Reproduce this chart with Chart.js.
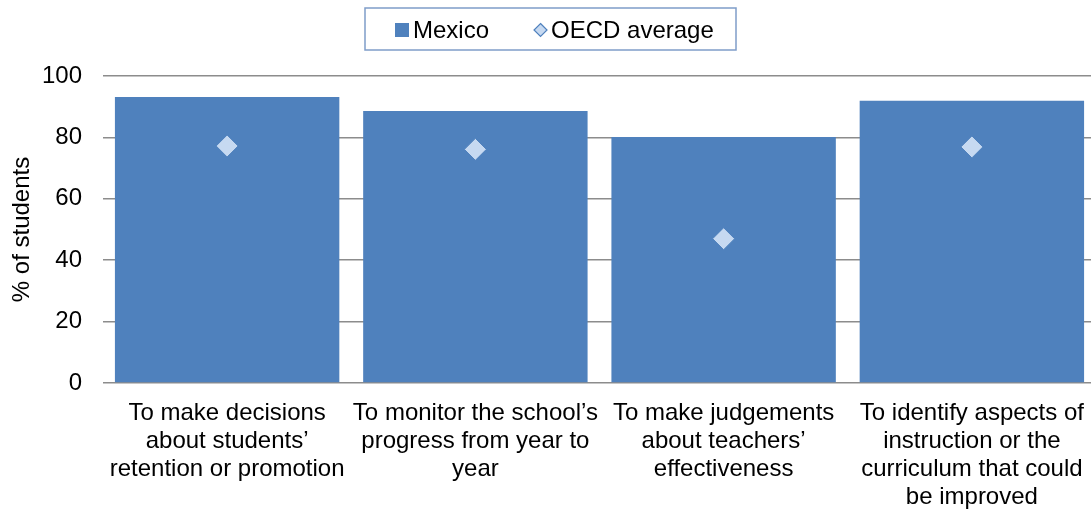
<!DOCTYPE html>
<html>
<head>
<meta charset="utf-8">
<script src="https://cdn.jsdelivr.net/npm/chart.js@4/dist/chart.umd.min.js"></script>
<style>
  html, body { margin: 0; padding: 0; background: #fff; overflow: hidden; width: 1091px; height: 512px; }
  #wrap { width: 1108px; height: 512px; position: relative; }
</style>
</head>
<body>
<div id="wrap"><canvas id="c"></canvas></div>
<script>
const categories = [
  ["To make decisions", "about students’", "retention or promotion"],
  ["To monitor the school’s", "progress from year to", "year"],
  ["To make judgements", "about teachers’", "effectiveness"],
  ["To identify aspects of", "instruction or the", "curriculum that could", "be improved"]
];
const seriesNames = ["Mexico", "OECD average"];
const mexicoValues = [93.2, 88.6, 80.1, 91.9];
const oecdValues = [77.2, 76.1, 47.0, 76.9];
const yAxisTitle = "% of students";

const BAR = '#4F81BD';
const DIAMOND = '#C6D9F1';
const FONT = "'Liberation Sans', Arial, sans-serif";

const boxLegend = {
  id: 'boxLegend',
  afterDraw(chart) {
    const ctx = chart.ctx;
    const ds = chart.data.datasets;
    const barDs = ds.find(d => d.type === 'bar');
    const ptDs = ds.find(d => d.type === 'line');
    ctx.save();
    const boxL = 365, boxT = 8, boxW = 371, boxH = 42;
    ctx.strokeStyle = '#7F9DC9';
    ctx.lineWidth = 1.5;
    ctx.strokeRect(boxL, boxT, boxW, boxH);
    ctx.font = '24px ' + FONT;
    ctx.textBaseline = 'middle';
    ctx.textAlign = 'left';
    const cy = 30;
    let x = 395;
    ctx.fillStyle = barDs.backgroundColor;
    ctx.fillRect(x, cy - 7, 14, 14);
    x += 14 + 4;
    ctx.fillStyle = '#000';
    ctx.fillText(barDs.label, x, cy + 1);
    x += ctx.measureText(barDs.label).width + 45;
    const r = 6.5;
    const dx = x + r;
    ctx.beginPath();
    ctx.moveTo(dx, cy - r);
    ctx.lineTo(dx + r, cy);
    ctx.lineTo(dx, cy + r);
    ctx.lineTo(dx - r, cy);
    ctx.closePath();
    ctx.fillStyle = ptDs.pointBackgroundColor;
    ctx.fill();
    ctx.strokeStyle = ptDs.pointBorderColor;
    ctx.lineWidth = 1.2;
    ctx.stroke();
    x += 2 * r + 4;
    ctx.fillStyle = '#000';
    ctx.fillText(ptDs.label, x, cy + 1);
    ctx.restore();
  }
};

new Chart(document.getElementById('c'), {
  data: {
    labels: categories,
    datasets: [
      {
        type: 'line',
        label: seriesNames[1],
        data: oecdValues,
        showLine: false,
        pointStyle: 'rectRot',
        pointRadius: 11,
        pointHoverRadius: 11,
        pointBackgroundColor: DIAMOND,
        pointBorderColor: BAR,
        pointBorderWidth: 1,
        order: 0
      },
      {
        type: 'bar',
        label: seriesNames[0],
        data: mexicoValues,
        backgroundColor: BAR,
        borderWidth: 0,
        barPercentage: 0.904,
        categoryPercentage: 1.0,
        order: 1
      }
    ]
  },
  options: {
    responsive: true,
    maintainAspectRatio: false,
    animation: false,
    devicePixelRatio: 1,
    layout: { padding: { top: 76, left: 0, right: 0, bottom: 0 } },
    plugins: {
      legend: { display: false },
      tooltip: { enabled: false }
    },
    scales: {
      x: {
        offset: true,
        grid: { display: false, drawTicks: true, tickLength: 16 },
        border: { display: false },
        ticks: {
          autoSkip: false,
          maxRotation: 0,
          minRotation: 0,
          padding: 0,
          color: '#000',
          font: { family: FONT, size: 24, lineHeight: 28 / 24 }
        },
        afterFit(scale) { scale.height = 129; scale.paddingLeft = 0; scale.paddingRight = 0; }
      },
      y: {
        min: 0,
        max: 100,
        ticks: {
          stepSize: 20,
          padding: 21,
          color: '#000',
          font: { family: FONT, size: 24 }
        },
        grid: { color: '#8C8C8C', lineWidth: 1.6, drawTicks: false },
        border: { display: false },
        title: {
          display: true,
          text: yAxisTitle,
          color: '#000',
          font: { family: FONT, size: 24 },
          padding: { top: 8, bottom: 0 }
        },
        afterFit(scale) { scale.width = 103; }
      }
    }
  },
  plugins: [boxLegend]
});
</script>
</body>
</html>
